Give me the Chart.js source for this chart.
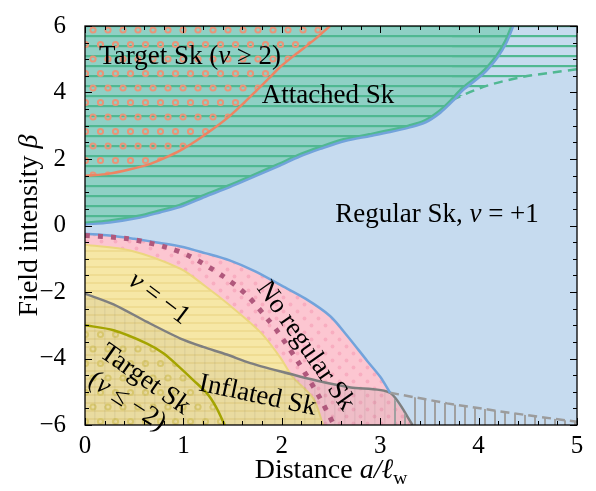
<!DOCTYPE html>
<html><head><meta charset="utf-8">
<script src="https://cdn.jsdelivr.net/npm/chart.js@4.4.1/dist/chart.umd.min.js"></script>
<style>html,body{margin:0;padding:0;background:#fff;overflow:hidden}canvas{display:block}</style>
</head><body>
<canvas id="c" width="596" height="491"></canvas>
<script>
// ---------------- data ----------------
const X_RANGE = [0, 5];
const Y_RANGE = [-6, 6];
const xMajorTicks = [0, 1, 2, 3, 4, 5];
const yMajorTicks = [-6, -4, -2, 0, 2, 4, 6];
const X_MINOR_STEP = 0.2;
const Y_MINOR_STEP = 0.5;

// upper boundary of "Attached Sk" (a, beta)
const attachedBoundary = [[0,0.04],[0.25,0.1],[0.56,0.25],[0.76,0.4],[0.97,0.57],[1.22,0.87],[1.47,1.16],[1.73,1.49],[1.98,1.81],[2.18,2.08],[2.39,2.31],[2.64,2.55],[2.9,2.7],[3.1,2.82],[3.3,2.96],[3.46,3.11],[3.61,3.4],[3.74,3.76],[3.84,4.08],[4.04,4.55],[4.19,5.06],[4.28,5.5],[4.35,6.0]];
// dashed continuation of attached region
const attachedDashed = [[3.73,3.78],[4.08,4.2],[4.45,4.47],[4.75,4.6],[5.0,4.7]];
// boundary of Target Sk (nu >= 2)
const targetPlusBoundary = [[0,1.49],[0.25,1.56],[0.46,1.69],[0.64,1.83],[0.8,2.02],[0.97,2.26],[1.13,2.55],[1.3,2.9],[1.47,3.29],[1.62,3.7],[1.75,4.08],[1.87,4.43],[1.98,4.76],[2.15,5.17],[2.32,5.56],[2.49,6.0]];
// upper boundary of "No regular Sk"
const noRegularTop = [[0,-0.25],[0.25,-0.3],[0.5,-0.4],[0.75,-0.52],[0.97,-0.63],[1.22,-0.83],[1.47,-1.05],[1.73,-1.38],[1.98,-1.78],[2.24,-2.2],[2.49,-2.72],[2.66,-3.3],[2.87,-4.08],[3.0,-4.55],[3.1,-5.03]];
// dotted line inside "No regular Sk"
const dottedLine = [[0,-0.3],[0.44,-0.4],[0.83,-0.66],[1.07,-0.93],[1.4,-1.52],[1.64,-2.08],[1.88,-2.9],[1.96,-3.2],[2.18,-4.17],[2.39,-5.2],[2.53,-6.0]];
// boundary of nu = -1 region
const nuMinusOneBoundary = [[0,-0.58],[0.46,-0.75],[0.97,-1.3],[1.22,-1.82],[1.47,-2.4],[1.78,-3.2],[1.98,-3.95],[2.11,-4.55],[2.32,-5.2],[2.42,-6.0]];
// boundary of Inflated Sk
const inflatedBoundary = [[0,-2.05],[0.29,-2.37],[0.63,-2.9],[0.97,-3.4],[1.2,-3.65],[1.44,-3.88],[1.68,-4.14],[2.0,-4.4],[2.36,-4.67],[2.7,-4.87],[3.1,-5.03]];
const inflatedFoot = [[3.33,-6.0]];
// hatched tail beyond the junction
const inflatedTail = [[3.1,-5.03],[3.45,-5.22],[3.68,-5.35],[4.22,-5.59],[4.6,-5.75],[5.0,-5.9]];
// boundary of Target Sk (nu <= -2)
const targetMinusBoundary = [[0,-3.0],[0.29,-3.15],[0.63,-3.55],[0.8,-3.85],[0.97,-4.29],[1.1,-4.65],[1.24,-5.05],[1.33,-5.45],[1.41,-5.94],[1.42,-6.0]];

// ---------------- styling ----------------
const FONT = '"Liberation Serif", "Times New Roman", serif';
const FS_LABEL = 27;
const FS_TITLE = 28;
const FS_TICK = 25;
const BLUE_BG = '#c6dbef';
const BLUE_LINE = '#72a3db';
const GREEN_LINE = '#50b892';
const ORANGE = '#ee8463';
const OLIVE = '#a4a400';
const GRAY = '#7f7f7f';

function pattern(w, h, draw) {
  const c = document.createElement('canvas');
  c.width = w; c.height = h;
  const g = c.getContext('2d');
  draw(g);
  return g.createPattern(c, 'repeat');
}
function ring(g, x, y, r, col, lw) { g.beginPath(); g.arc(x, y, r, 0, Math.PI*2); g.strokeStyle = col; g.lineWidth = lw; g.stroke(); }
function dot(g, x, y, r, col) { g.beginPath(); g.arc(x, y, r, 0, Math.PI*2); g.fillStyle = col; g.fill(); }

const greenPat = pattern(10, 10, g => { g.fillStyle = '#8fd0c5'; g.fillRect(0,0,10,10); g.fillStyle = GREEN_LINE; g.fillRect(0,5,10,2.2); });
const greenLinesPat = pattern(10, 10, g => { g.fillStyle = GREEN_LINE; g.fillRect(0,5,10,2.2); });
const orangeRingPat = pattern(15, 29, g => {
  [[3,1],[3,30],[-12,1],[18,1],[10.5,15.5],[-4.5,15.5]].forEach(([x,y]) => ring(g, x, y, 2.6, '#e99579', 2));
});
const pinkPat = pattern(14, 14, g => { g.fillStyle = '#fcc6d1'; g.fillRect(0,0,14,14); dot(g,3.5,3.5,1.9,'#f8adc0'); dot(g,10.5,10.5,1.9,'#f8adc0'); });
const yellowPat = pattern(8, 8, g => { g.fillStyle = '#f6e7a6'; g.fillRect(0,0,8,8); g.fillStyle = '#efdc92'; g.fillRect(0,2,8,2); });
const yellowRingPat = pattern(15, 29, g => {
  [[3,1],[3,30],[-12,1],[18,1],[10.5,15.5],[-4.5,15.5]].forEach(([x,y]) => ring(g, x, y, 2.6, '#e3d170', 2));
});
const inflatedPat = pattern(10, 10, g => { g.fillStyle = 'rgba(90,90,90,0.08)'; g.fillRect(0,0,10,10); g.fillStyle = 'rgba(90,90,90,0.08)'; g.fillRect(4,0,1.5,10); });
const tailPat = pattern(10, 10, g => { g.fillStyle = '#a0a0a0'; g.fillRect(4,0,2,10); });

const P = arr => arr.map(([x, y]) => ({x, y}));

const layers = [
  {data: P([[X_RANGE[0], Y_RANGE[1]], [X_RANGE[1], Y_RANGE[1]]]), fill: 'start', backgroundColor: BLUE_BG, borderWidth: 0},
  {data: P(attachedBoundary), fill: 'end', backgroundColor: greenPat, borderWidth: 0},
  {data: P(attachedDashed), fill: 'end', backgroundColor: greenLinesPat, borderColor: GREEN_LINE, borderWidth: 2.5, borderDash: [9, 6]},
  {data: P(targetPlusBoundary), fill: 'end', backgroundColor: orangeRingPat, borderColor: ORANGE, borderWidth: 2.5},
  {data: P(attachedBoundary), fill: false, borderColor: BLUE_LINE, borderWidth: 3},
  {data: attachedBoundary.map(([x, y]) => ({x: x - 0.012, y: y + 0.05})), fill: false, borderColor: GREEN_LINE, borderWidth: 2},
  {data: P(noRegularTop.concat(inflatedFoot)), fill: 'start', backgroundColor: pinkPat, borderWidth: 0},
  {data: P(nuMinusOneBoundary), fill: 'start', backgroundColor: yellowPat, borderColor: '#ecd67f', borderWidth: 2},
  {data: P(targetMinusBoundary), fill: 'start', backgroundColor: yellowRingPat, borderWidth: 0},
  {data: P(inflatedBoundary.concat(inflatedFoot)), fill: 'start', backgroundColor: inflatedPat, borderColor: GRAY, borderWidth: 2.5, tension: 0.25},
  {data: P(targetMinusBoundary), fill: false, borderColor: OLIVE, borderWidth: 2.5},
  {data: P(inflatedFoot.concat(inflatedTail)), fill: 'start', backgroundColor: tailPat, borderColor: '#9c9c9c', borderWidth: 2.5, borderDash: [9, 5], tension: 0,
   segment: {borderColor: c => c.p0DataIndex === 0 ? 'rgba(0,0,0,0)' : '#9c9c9c'}},
  {data: P(noRegularTop), fill: false, borderColor: BLUE_LINE, borderWidth: 2.5},
  {data: P(dottedLine), fill: false, borderColor: '#b0587c', borderWidth: 5, borderDash: [5, 8], borderCapStyle: 'butt'},
];
layers.forEach((d, i) => { d.order = 100 - i; if (d.tension === undefined) d.tension = 0.3; d.pointRadius = 0; });

// ---------------- text ----------------
const regionLabels = [
  {parts: [{t: 'Target Sk ('}, {t: 'ν', it: true}, {t: ' ≥ 2)'}], x: 190, y: 55, a: 0},
  {parts: [{t: 'Attached Sk'}], x: 328, y: 94, a: 0},
  {parts: [{t: 'Regular Sk, '}, {t: 'ν', it: true}, {t: ' = +1'}], x: 437, y: 213, a: 0},
  {parts: [{t: 'ν', it: true}, {t: ' = −1'}], x: 160, y: 297, a: 37},
  {parts: [{t: 'No regular Sk'}], x: 307, y: 345, a: 55},
  {parts: [{t: 'Inflated Sk'}], x: 258, y: 394, a: 12},
  {parts: [{t: 'Target Sk'}], x: 146, y: 378, a: 35},
  {parts: [{t: '('}, {t: 'ν', it: true}, {t: ' ≤ −2)'}], x: 128, y: 400, a: 33},
];
const xTitle = [{t: 'Distance '}, {t: 'a/ℓ', it: true}, {t: 'w', sub: true}];
const yTitle = [{t: 'Field intensity '}, {t: 'β', it: true}];

function drawRich(ctx, parts, cx, cy, ang, size) {
  ctx.save();
  ctx.translate(cx, cy);
  ctx.rotate(ang * Math.PI / 180);
  const f = p => `${p.it ? 'italic ' : ''}${p.sub ? size * 0.7 : size}px ${FONT}`;
  let w = 0;
  parts.forEach(p => { ctx.font = f(p); w += ctx.measureText(p.t).width; });
  let x = -w / 2;
  ctx.fillStyle = '#000';
  ctx.textBaseline = 'alphabetic';
  ctx.textAlign = 'left';
  parts.forEach(p => { ctx.font = f(p); ctx.fillText(p.t, x, size * 0.33 + (p.sub ? size * 0.22 : 0)); x += ctx.measureText(p.t).width; });
  ctx.restore();
}

const decor = {
  id: 'decor',
  beforeDraw(chart) { const {ctx, width, height} = chart; ctx.save(); ctx.fillStyle = '#fff'; ctx.fillRect(0, 0, width, height); ctx.restore(); },
  afterDatasetsDraw(chart) {
    const {ctx, chartArea: a, scales: {x, y}} = chart;
    ctx.save();
    ctx.strokeStyle = '#000'; ctx.lineWidth = 1;
    const seg = (x1, y1, x2, y2) => { ctx.beginPath(); ctx.moveTo(x1, y1); ctx.lineTo(x2, y2); ctx.stroke(); };
    const nx = Math.round((X_RANGE[1] - X_RANGE[0]) / X_MINOR_STEP);
    for (let i = 0; i <= nx; i++) {
      const v = X_RANGE[0] + i * X_MINOR_STEP;
      const major = xMajorTicks.some(t => Math.abs(t - v) < 1e-6);
      const px = Math.round(x.getPixelForValue(v)) + 0.5;
      const L = major ? 7 : 4;
      seg(px, a.bottom, px, a.bottom - L); seg(px, a.top, px, a.top + L);
    }
    const ny = Math.round((Y_RANGE[1] - Y_RANGE[0]) / Y_MINOR_STEP);
    for (let i = 0; i <= ny; i++) {
      const v = Y_RANGE[0] + i * Y_MINOR_STEP;
      const major = yMajorTicks.some(t => Math.abs(t - v) < 1e-6);
      const py = Math.round(y.getPixelForValue(v)) + 0.5;
      const L = major ? 7 : 4;
      seg(a.left, py, a.left + L, py); seg(a.right, py, a.right - L, py);
    }
    ctx.lineWidth = 1.3;
    ctx.strokeRect(a.left, a.top, a.right - a.left, a.bottom - a.top);
    ctx.restore();
  },
  afterDraw(chart) {
    const {ctx, chartArea: a} = chart;
    regionLabels.forEach(l => drawRich(ctx, l.parts, l.x, l.y, l.a, FS_LABEL));
    drawRich(ctx, xTitle, (a.left + a.right) / 2, 469, 0, FS_TITLE);
    drawRich(ctx, yTitle, 28, (a.top + a.bottom) / 2, -90, FS_TITLE);
  }
};

Chart.defaults.color = '#000';
Chart.defaults.font.family = FONT;
Chart.defaults.font.size = FS_TICK;

new Chart(document.getElementById('c'), {
  type: 'line',
  data: {datasets: layers},
  options: {
    responsive: false, animation: false, devicePixelRatio: 1,
    layout: {padding: {left: 0, right: 19, top: 18, bottom: 0}},
    plugins: {legend: {display: false}, tooltip: {enabled: false}},
    elements: {point: {radius: 0}},
    scales: {
      x: {type: 'linear', min: X_RANGE[0], max: X_RANGE[1],
          afterBuildTicks: s => { s.ticks = xMajorTicks.map(v => ({value: v})); },
          grid: {display: false}, border: {display: false},
          ticks: {padding: -2, maxRotation: 0, callback: v => String(v)},
          afterFit: s => { s.height = 66; }},
      y: {type: 'linear', min: Y_RANGE[0], max: Y_RANGE[1],
          afterBuildTicks: s => { s.ticks = yMajorTicks.map(v => ({value: v})); },
          grid: {display: false}, border: {display: false},
          ticks: {padding: 11, callback: v => String(v).replace('-', '−')},
          afterFit: s => { s.width = 85; }}
    }
  },
  plugins: [decor]
});
</script>
</body></html>
